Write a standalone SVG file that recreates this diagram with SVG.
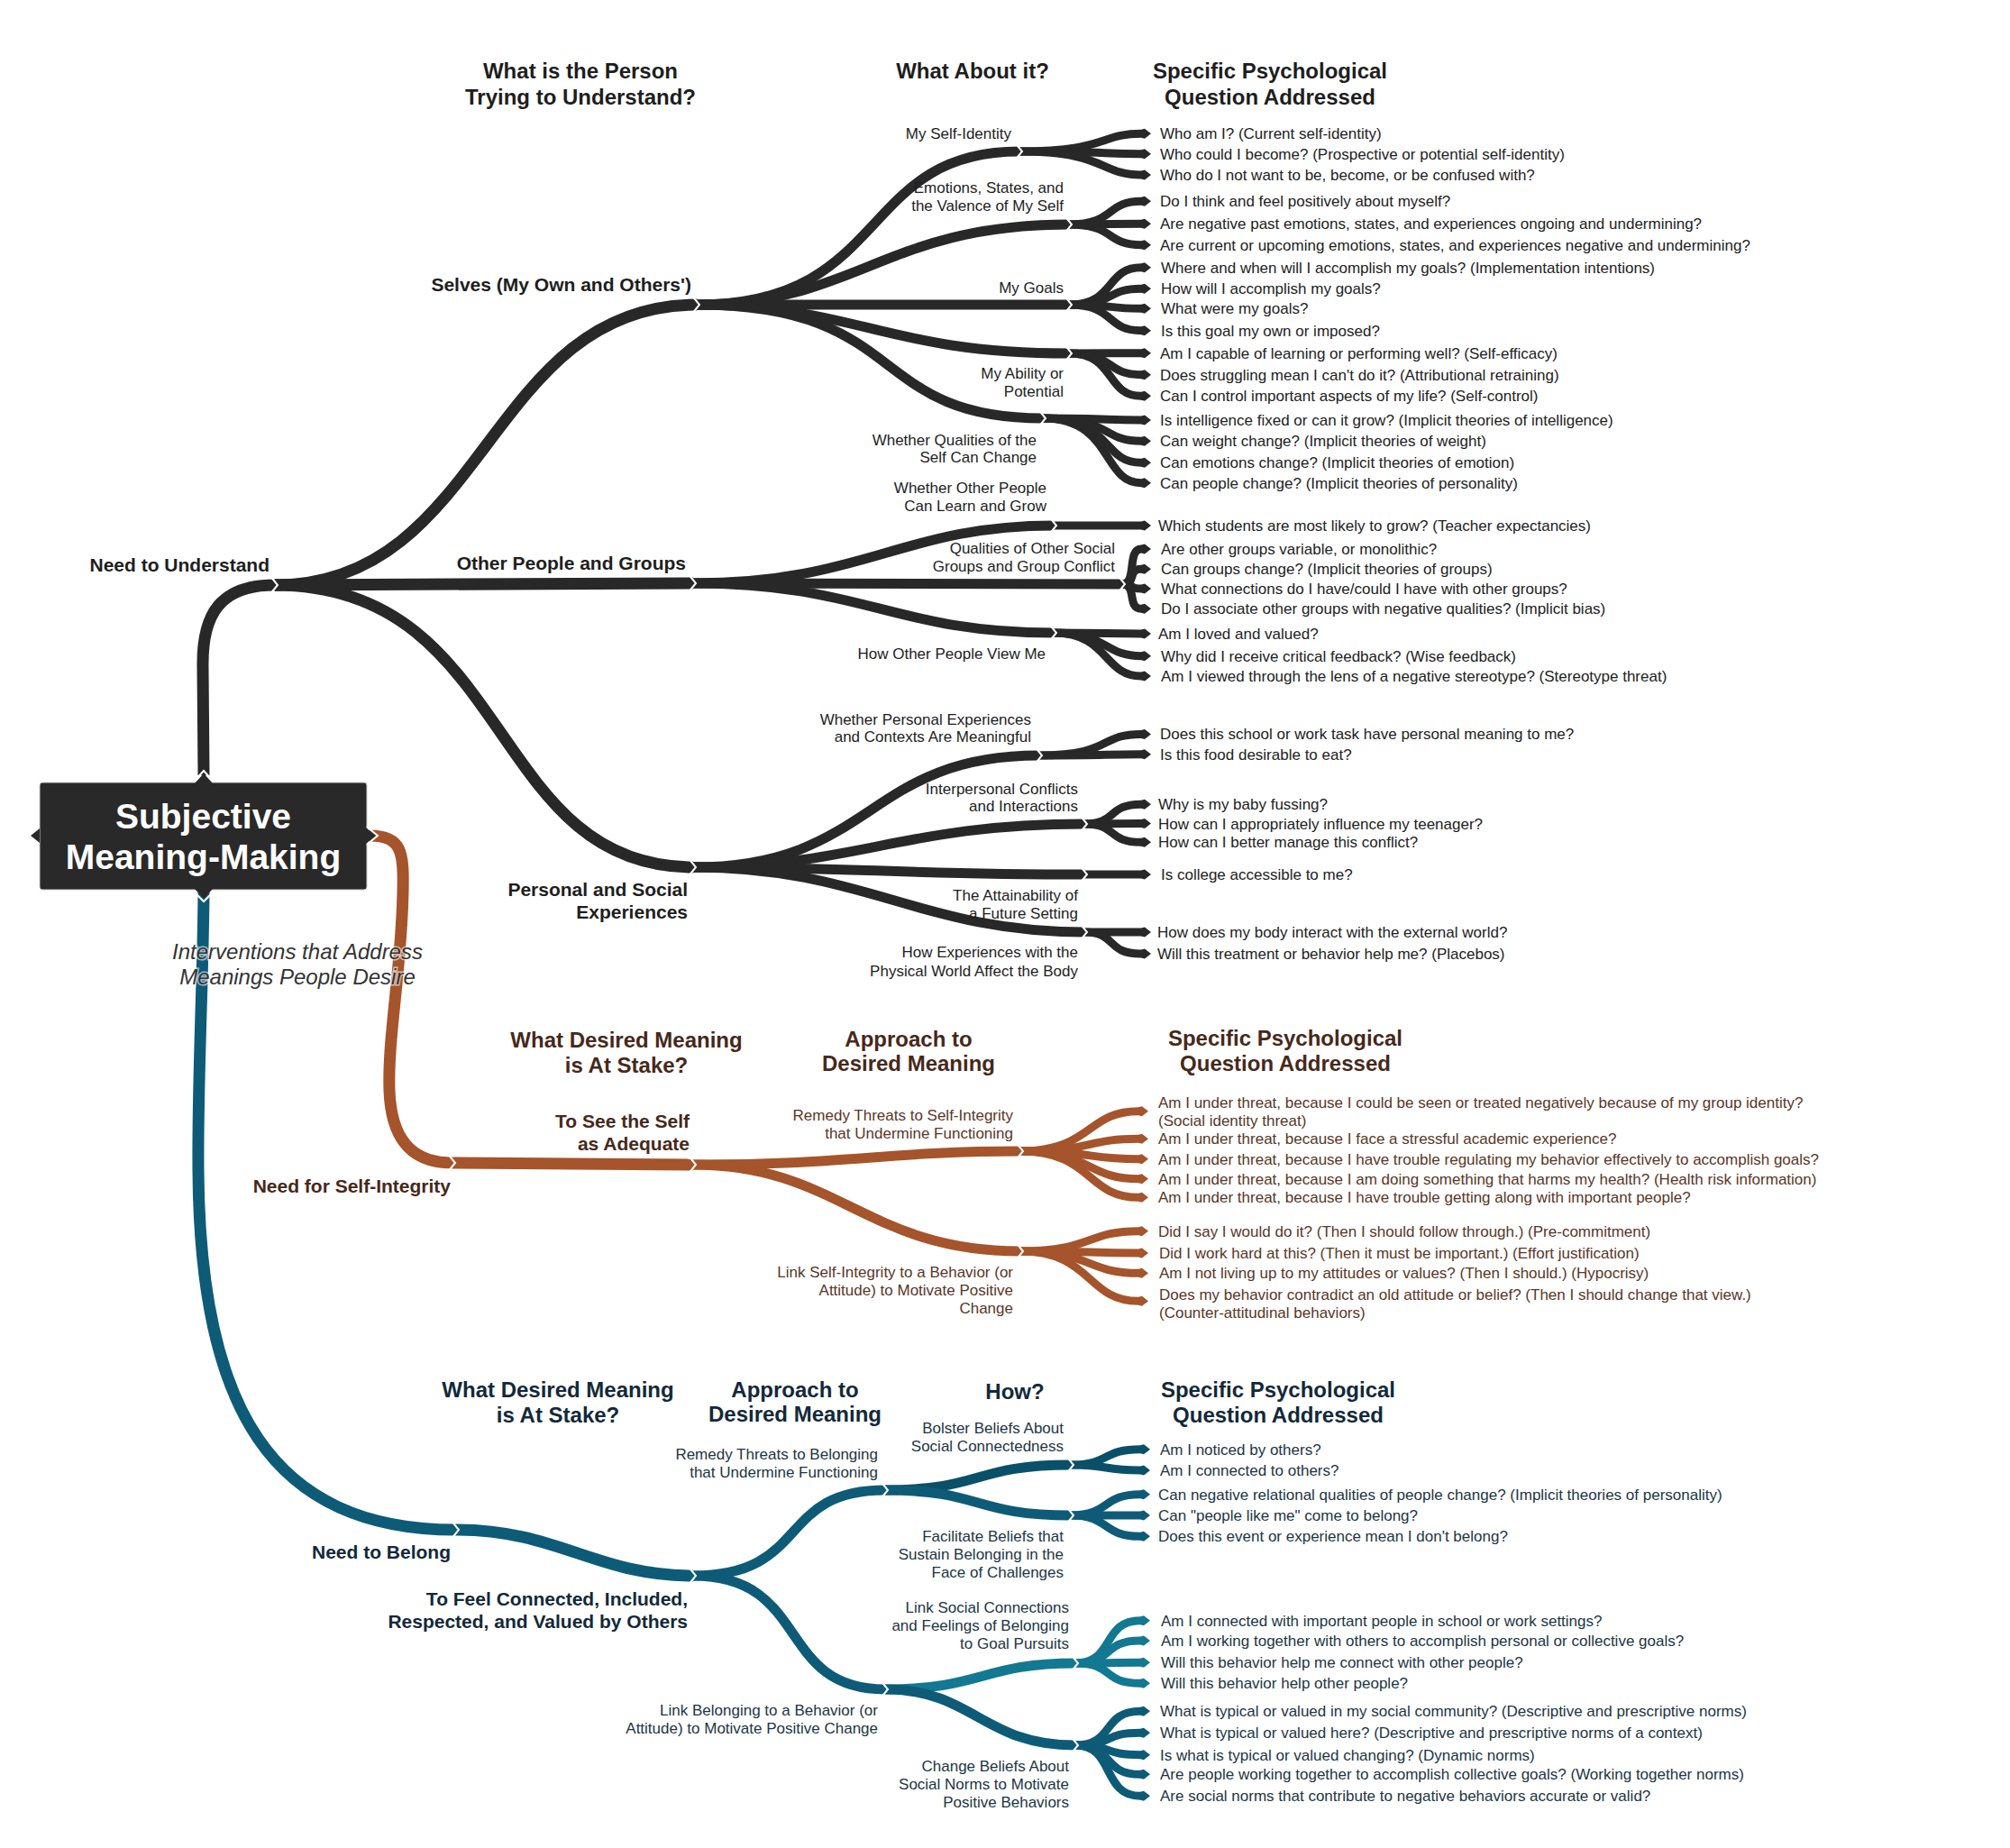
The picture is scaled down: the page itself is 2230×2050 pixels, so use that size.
<svg xmlns="http://www.w3.org/2000/svg" width="2230" height="2050" viewBox="0 0 2230 2050">
<style>
text{font-family:"Liberation Sans",Arial,sans-serif}
.q{font-size:17px}
.lb{font-size:17px;text-anchor:end}
.b1{font-size:21px;font-weight:bold;text-anchor:end}
.h{font-size:24px;font-weight:bold;text-anchor:middle}
.dk{fill:#1e1e1e}
.dq{fill:#222}
.brh{fill:#47281a}
.brq{fill:#5a3626}
.blh{fill:#12293a}
.blq{fill:#1c3644}
.c{fill:none;stroke-linecap:butt;stroke-linejoin:round}
.d{stroke:#282828}
.o{stroke:#A5542B}
.u{stroke:#0E5B78}
.u2{stroke:#0B5069}
.u3{stroke:#137891}
.w0{stroke-width:13}
.w1{stroke-width:11}
.w2{stroke-width:9}
.ld{marker-end:url(#ad)}
.lo{marker-end:url(#ao)}
.lu{marker-end:url(#au)}
.lu2{marker-end:url(#au2)}
.lu3{marker-end:url(#au3)}
</style>
<defs>
<marker id="ad" viewBox="0 -7 12 14" refX="0" refY="0" markerWidth="12" markerHeight="14" markerUnits="userSpaceOnUse" orient="auto"><path d="M0,-4.5 L4,-5.5 L11,0 L4,5.5 L0,4.5 Z" fill="#282828"/></marker>
<marker id="ao" viewBox="0 -7 12 14" refX="0" refY="0" markerWidth="12" markerHeight="14" markerUnits="userSpaceOnUse" orient="auto"><path d="M0,-4.5 L4,-5.5 L11,0 L4,5.5 L0,4.5 Z" fill="#A5542B"/></marker>
<marker id="au" viewBox="0 -7 12 14" refX="0" refY="0" markerWidth="12" markerHeight="14" markerUnits="userSpaceOnUse" orient="auto"><path d="M0,-4.5 L4,-5.5 L11,0 L4,5.5 L0,4.5 Z" fill="#0E5B78"/></marker>
<marker id="au2" viewBox="0 -7 12 14" refX="0" refY="0" markerWidth="12" markerHeight="14" markerUnits="userSpaceOnUse" orient="auto"><path d="M0,-4.5 L4,-5.5 L11,0 L4,5.5 L0,4.5 Z" fill="#0B5069"/></marker>
<marker id="au3" viewBox="0 -7 12 14" refX="0" refY="0" markerWidth="12" markerHeight="14" markerUnits="userSpaceOnUse" orient="auto"><path d="M0,-4.5 L4,-5.5 L11,0 L4,5.5 L0,4.5 Z" fill="#137891"/></marker>
<path id="cv" d="M-3.5,-8 L3,0 L-3.5,8" fill="none" stroke="#fff" stroke-width="2"/>
</defs>
<rect width="2230" height="2050" fill="#fff"/>

<g id="connectors">
<!-- dark tree -->
<path class="c d w0" d="M226,860 L225,740 C224,680 245,649 305,649"/>
<path class="c d w0" d="M305,649 C540,649 540,338 773,338"/>
<path class="c d w0" d="M305,649 L769,647"/>
<path class="c d w0" d="M305,649 C570,649 540,962 769,962"/>
<path class="c d w1" d="M773,338 C990,338 950,168 1131,168"/>
<path class="c d w1" d="M773,338 C950,338 980,249 1186,249"/>
<path class="c d w1" d="M773,338 L1186,338"/>
<path class="c d w1" d="M773,338 C950,338 980,392 1186,392"/>
<path class="c d w1" d="M773,338 C1010,338 960,464 1157,464"/>
<path class="c d w1" d="M769,647 C960,647 1000,583 1169,583"/>
<path class="c d w1" d="M769,647 L1245,648"/>
<path class="c d w1" d="M769,647 C960,647 990,702 1169,702"/>
<path class="c d w1" d="M769,962 C970,962 960,838 1153,838"/>
<path class="c d w1" d="M769,962 C950,962 1000,914 1203,914"/>
<path class="c d w1" d="M769,962 C950,962 1000,970 1203,970"/>
<path class="c d w1" d="M769,962 C960,962 1020,1034 1203,1034"/>
<path class="c d w2 ld" d="M1131,168 C1228,168 1220,148.3 1266,148.3"/>
<path class="c d w2 ld" d="M1131,168 C1228,168 1220,170.7 1266,170.7"/>
<path class="c d w2 ld" d="M1131,168 C1228,168 1220,194 1266,194"/>
<path class="c d w2 ld" d="M1186,249 C1238,249 1226,223.3 1266,223.3"/>
<path class="c d w2 ld" d="M1186,249 C1238,249 1226,248.3 1266,248.3"/>
<path class="c d w2 ld" d="M1186,249 C1238,249 1226,271.7 1266,271.7"/>
<path class="c d w2 ld" d="M1186,338 C1238,338 1226,296.7 1266,296.7"/>
<path class="c d w2 ld" d="M1186,338 C1238,338 1226,320.3 1266,320.3"/>
<path class="c d w2 ld" d="M1186,338 C1238,338 1226,342.3 1266,342.3"/>
<path class="c d w2 ld" d="M1186,338 C1238,338 1226,366.7 1266,366.7"/>
<path class="c d w2 ld" d="M1186,392 C1238,392 1226,391.7 1266,391.7"/>
<path class="c d w2 ld" d="M1186,392 C1238,392 1226,415.7 1266,415.7"/>
<path class="c d w2 ld" d="M1186,392 C1238,392 1226,439.3 1266,439.3"/>
<path class="c d w2 ld" d="M1157,464 C1235,464 1222,466 1266,466"/>
<path class="c d w2 ld" d="M1157,464 C1235,464 1222,489.3 1266,489.3"/>
<path class="c d w2 ld" d="M1157,464 C1235,464 1222,513.3 1266,513.3"/>
<path class="c d w2 ld" d="M1157,464 C1235,464 1222,535.7 1266,535.7"/>
<path class="c d w2 ld" d="M1169,583 L1266,583"/>
<path class="c d w2 ld" d="M1245,648 C1262,648 1250,609 1266,609"/>
<path class="c d w2 ld" d="M1245,648 C1262,648 1250,631.3 1266,631.3"/>
<path class="c d w2 ld" d="M1245,648 C1262,648 1250,653 1266,653"/>
<path class="c d w2 ld" d="M1245,648 C1262,648 1250,675.3 1266,675.3"/>
<path class="c d w2 ld" d="M1169,702 C1230,702 1224,702.9 1266,702.9"/>
<path class="c d w2 ld" d="M1169,702 C1230,702 1224,727.7 1266,727.7"/>
<path class="c d w2 ld" d="M1169,702 C1230,702 1224,750 1266,750"/>
<path class="c d w2 ld" d="M1153,838 C1235,838 1218,814.4 1266,814.4"/>
<path class="c d w2 ld" d="M1153,838 C1235,838 1218,836.8 1266,836.8"/>
<path class="c d w2 ld" d="M1203,914 C1240,914 1228,892.3 1266,892.3"/>
<path class="c d w2 ld" d="M1203,914 C1240,914 1228,913.6 1266,913.6"/>
<path class="c d w2 ld" d="M1203,914 C1240,914 1228,934.3 1266,934.3"/>
<path class="c d w2 ld" d="M1203,970 L1266,970"/>
<path class="c d w2 ld" d="M1203,1034 C1240,1034 1226,1034 1266,1034"/>
<path class="c d w2 ld" d="M1203,1034 C1240,1034 1226,1058 1266,1058"/>
<!-- brown tree -->
<path class="c o w0" d="M410,927 C446,927 448,945 447,990 C445,1080 430,1150 432,1210 C434,1262 455,1290 502,1290"/>
<path class="c o w0" d="M502,1290 L769,1292"/>
<path class="c o w1" d="M769,1292 C950,1292 980,1277 1132,1277"/>
<path class="c o w1" d="M769,1292 C930,1292 960,1388 1132,1388"/>
<path class="c o w2 lo" d="M1132,1277 C1212,1277 1205,1232.7 1263,1232.7"/>
<path class="c o w2 lo" d="M1132,1277 C1212,1277 1205,1263.3 1263,1263.3"/>
<path class="c o w2 lo" d="M1132,1277 C1212,1277 1205,1285.7 1263,1285.7"/>
<path class="c o w2 lo" d="M1132,1277 C1212,1277 1205,1307.7 1263,1307.7"/>
<path class="c o w2 lo" d="M1132,1277 C1212,1277 1205,1328.3 1263,1328.3"/>
<path class="c o w2 lo" d="M1132,1388 C1212,1388 1205,1365.7 1263,1365.7"/>
<path class="c o w2 lo" d="M1132,1388 C1212,1388 1205,1390 1263,1390"/>
<path class="c o w2 lo" d="M1132,1388 C1212,1388 1205,1412.3 1263,1412.3"/>
<path class="c o w2 lo" d="M1132,1388 C1212,1388 1205,1443.3 1263,1443.3"/>
<!-- blue tree -->
<path class="c u w0" d="M226,990 C225,1100 219,1200 220,1300 C222,1560 300,1697 506,1697"/>
<path class="c u w0" d="M506,1697 C620,1697 660,1748 769,1748"/>
<path class="c u w1" d="M769,1748 C900,1748 860,1653 982,1653"/>
<path class="c u w1" d="M769,1748 C900,1748 860,1874 982,1874"/>
<path class="c u2 w1" d="M982,1653 C1090,1653 1080,1625 1188,1625"/>
<path class="c u w1" d="M982,1653 C1090,1653 1080,1681 1188,1681"/>
<path class="c u3 w1" d="M982,1874 C1090,1874 1090,1845 1193,1845"/>
<path class="c u w1" d="M982,1874 C1080,1874 1090,1936 1193,1936"/>
<path class="c u2 w2 lu2" d="M1188,1625 C1232,1625 1222,1607.7 1265,1607.7"/>
<path class="c u2 w2 lu2" d="M1188,1625 C1232,1625 1222,1631 1265,1631"/>
<path class="c u w2 lu" d="M1188,1681 C1232,1681 1222,1657.7 1265,1657.7"/>
<path class="c u w2 lu" d="M1188,1681 C1232,1681 1222,1681 1265,1681"/>
<path class="c u w2 lu" d="M1188,1681 C1232,1681 1222,1704.3 1265,1704.3"/>
<path class="c u3 w2 lu3" d="M1193,1845 C1237,1845 1222,1797.7 1265,1797.7"/>
<path class="c u3 w2 lu3" d="M1193,1845 C1237,1845 1222,1820 1265,1820"/>
<path class="c u3 w2 lu3" d="M1193,1845 C1237,1845 1222,1844.3 1265,1844.3"/>
<path class="c u3 w2 lu3" d="M1193,1845 C1237,1845 1222,1867.3 1265,1867.3"/>
<path class="c u w2 lu" d="M1193,1936 C1237,1936 1222,1898.3 1265,1898.3"/>
<path class="c u w2 lu" d="M1193,1936 C1237,1936 1222,1922.3 1265,1922.3"/>
<path class="c u w2 lu" d="M1193,1936 C1237,1936 1222,1946.7 1265,1946.7"/>
<path class="c u w2 lu" d="M1193,1936 C1237,1936 1222,1968.3 1265,1968.3"/>
<path class="c u w2 lu" d="M1193,1936 C1237,1936 1222,1992.3 1265,1992.3"/>
<!-- junction chevrons -->
<use href="#cv" x="305" y="649"/><use href="#cv" x="773" y="338"/><use href="#cv" x="769" y="647"/><use href="#cv" x="769" y="962"/>
<use href="#cv" x="1131" y="168"/><use href="#cv" x="1186" y="249"/><use href="#cv" x="1186" y="338"/><use href="#cv" x="1186" y="392"/><use href="#cv" x="1157" y="464"/>
<use href="#cv" x="1169" y="583"/><use href="#cv" x="1245" y="648"/><use href="#cv" x="1169" y="702"/>
<use href="#cv" x="1153" y="838"/><use href="#cv" x="1203" y="914"/><use href="#cv" x="1203" y="970"/><use href="#cv" x="1203" y="1034"/>
<use href="#cv" x="502" y="1290"/><use href="#cv" x="769" y="1292"/><use href="#cv" x="1132" y="1277"/><use href="#cv" x="1132" y="1388"/>
<use href="#cv" x="506" y="1697"/><use href="#cv" x="769" y="1748"/><use href="#cv" x="982" y="1653"/><use href="#cv" x="982" y="1874"/>
<use href="#cv" x="1188" y="1625"/><use href="#cv" x="1188" y="1681"/><use href="#cv" x="1193" y="1845"/><use href="#cv" x="1193" y="1936"/>
</g>

<g id="root">
<rect x="44" y="868" width="363" height="119" rx="3" fill="#292929" stroke="#cfcfcf" stroke-width="1"/>
<polygon points="44,919 34,927 44,935" fill="#292929"/>
<polygon points="216,869 226,858 236,869" fill="#292929"/>
<polyline points="216,866 226,855 236,866" fill="none" stroke="#fff" stroke-width="2"/>
<polygon points="216,986 226,997 236,986" fill="#292929"/>
<polyline points="216,990 226,1000 236,990" fill="none" stroke="#fff" stroke-width="2"/>
<polygon points="406,918 417,927 406,936" fill="#292929"/>
<polyline points="407,917 419,927 407,937" fill="none" stroke="#fff" stroke-width="2"/>
<text x="225.5" y="919" text-anchor="middle" font-size="39" font-weight="bold" fill="#fff">Subjective</text>
<text x="225.5" y="964" text-anchor="middle" font-size="39" font-weight="bold" fill="#fff">Meaning-Making</text>
</g>

<g id="note"><text text-anchor="middle" font-size="24" font-style="italic" fill="#333" stroke="#fff" stroke-width="3" stroke-opacity="0.6" paint-order="stroke"><tspan x="330" y="1064">Interventions that Address</tspan><tspan x="330" y="1092">Meanings People Desire</tspan></text></g>

<!-- headers -->
<g id="hdr-understand-1"><text class="h dk" x="644" y="87">What is the Person</text><text class="h dk" x="644" y="116">Trying to Understand?</text></g>
<g id="hdr-understand-2"><text class="h dk" x="1079" y="87">What About it?</text></g>
<g id="hdr-understand-3"><text class="h dk" x="1409" y="87">Specific Psychological</text><text class="h dk" x="1409" y="116">Question Addressed</text></g>
<g id="hdr-integrity-1"><text class="h brh" x="695" y="1162">What Desired Meaning</text><text class="h brh" x="695" y="1190">is At Stake?</text></g>
<g id="hdr-integrity-2"><text class="h brh" x="1008" y="1161">Approach to</text><text class="h brh" x="1008" y="1188">Desired Meaning</text></g>
<g id="hdr-integrity-3"><text class="h brh" x="1426" y="1160">Specific Psychological</text><text class="h brh" x="1426" y="1188">Question Addressed</text></g>
<g id="hdr-belong-1"><text class="h blh" x="619" y="1550">What Desired Meaning</text><text class="h blh" x="619" y="1578">is At Stake?</text></g>
<g id="hdr-belong-2"><text class="h blh" x="882" y="1550">Approach to</text><text class="h blh" x="882" y="1577">Desired Meaning</text></g>
<g id="hdr-belong-3"><text class="h blh" x="1126" y="1552">How?</text></g>
<g id="hdr-belong-4"><text class="h blh" x="1418" y="1550">Specific Psychological</text><text class="h blh" x="1418" y="1578">Question Addressed</text></g>

<!-- dark nodes -->
<g id="n-understand"><text class="b1 dk" x="299" y="633.5">Need to Understand</text></g>
<g id="n-selves"><text class="b1 dk" x="767" y="322.5">Selves (My Own and Others')</text></g>
<g id="n-others"><text class="b1 dk" x="761" y="632">Other People and Groups</text></g>
<g id="n-personal"><text class="b1 dk" x="763" y="993.5">Personal and Social</text><text class="b1 dk" x="763" y="1019">Experiences</text></g>
<g id="n-selfid"><text class="lb dk" x="1122" y="154">My Self-Identity</text></g>
<g id="n-emotions"><text class="lb dk" x="1180" y="214">Emotions, States, and</text><text class="lb dk" x="1180" y="233.5">the Valence of My Self</text></g>
<g id="n-goals"><text class="lb dk" x="1180" y="324.6">My Goals</text></g>
<g id="n-ability"><text class="lb dk" x="1180" y="420">My Ability or</text><text class="lb dk" x="1180" y="440">Potential</text></g>
<g id="n-qualself"><text class="lb dk" x="1150" y="493.5">Whether Qualities of the</text><text class="lb dk" x="1150" y="513">Self Can Change</text></g>
<g id="n-othergrow"><text class="lb dk" x="1161" y="547.4">Whether Other People</text><text class="lb dk" x="1161" y="567">Can Learn and Grow</text></g>
<g id="n-groups"><text class="lb dk" x="1237" y="614">Qualities of Other Social</text><text class="lb dk" x="1237" y="634">Groups and Group Conflict</text></g>
<g id="n-viewme"><text class="lb dk" x="1160" y="731">How Other People View Me</text></g>
<g id="n-meaningful"><text class="lb dk" x="1144" y="803.5">Whether Personal Experiences</text><text class="lb dk" x="1144" y="823">and Contexts Are Meaningful</text></g>
<g id="n-interpersonal"><text class="lb dk" x="1196" y="880.6">Interpersonal Conflicts</text><text class="lb dk" x="1196" y="900">and Interactions</text></g>
<g id="n-attain"><text class="lb dk" x="1196" y="998.5">The Attainability of</text><text class="lb dk" x="1196" y="1019">a Future Setting</text></g>
<g id="n-body"><text class="lb dk" x="1196" y="1062">How Experiences with the</text><text class="lb dk" x="1196" y="1082.7">Physical World Affect the Body</text></g>

<!-- dark leaves -->
<g id="q1"><text class="q dq" x="1287" y="154.3">Who am I? (Current self-identity)</text></g>
<g id="q2"><text class="q dq" x="1287" y="176.7">Who could I become? (Prospective or potential self-identity)</text></g>
<g id="q3"><text class="q dq" x="1287" y="200">Who do I not want to be, become, or be confused with?</text></g>
<g id="q4"><text class="q dq" x="1287" y="229.3">Do I think and feel positively about myself?</text></g>
<g id="q5"><text class="q dq" x="1287" y="254.3">Are negative past emotions, states, and experiences ongoing and undermining?</text></g>
<g id="q6"><text class="q dq" x="1287" y="277.7">Are current or upcoming emotions, states, and experiences negative and undermining?</text></g>
<g id="q7"><text class="q dq" x="1288" y="302.7">Where and when will I accomplish my goals? (Implementation intentions)</text></g>
<g id="q8"><text class="q dq" x="1288" y="326.3">How will I accomplish my goals?</text></g>
<g id="q9"><text class="q dq" x="1288" y="348.3">What were my goals?</text></g>
<g id="q10"><text class="q dq" x="1288" y="372.7">Is this goal my own or imposed?</text></g>
<g id="q11"><text class="q dq" x="1287" y="397.7">Am I capable of learning or performing well? (Self-efficacy)</text></g>
<g id="q12"><text class="q dq" x="1287" y="421.7">Does struggling mean I can't do it? (Attributional retraining)</text></g>
<g id="q13"><text class="q dq" x="1287" y="445.3">Can I control important aspects of my life? (Self-control)</text></g>
<g id="q14"><text class="q dq" x="1287" y="472">Is intelligence fixed or can it grow? (Implicit theories of intelligence)</text></g>
<g id="q15"><text class="q dq" x="1287" y="495.3">Can weight change? (Implicit theories of weight)</text></g>
<g id="q16"><text class="q dq" x="1287" y="519.3">Can emotions change? (Implicit theories of emotion)</text></g>
<g id="q17"><text class="q dq" x="1287" y="541.7">Can people change? (Implicit theories of personality)</text></g>
<g id="q18"><text class="q dq" x="1285" y="589">Which students are most likely to grow? (Teacher expectancies)</text></g>
<g id="q19"><text class="q dq" x="1288" y="615">Are other groups variable, or monolithic?</text></g>
<g id="q20"><text class="q dq" x="1288" y="637.3">Can groups change? (Implicit theories of groups)</text></g>
<g id="q21"><text class="q dq" x="1288" y="659">What connections do I have/could I have with other groups?</text></g>
<g id="q22"><text class="q dq" x="1288" y="681.3">Do I associate other groups with negative qualities? (Implicit bias)</text></g>
<g id="q23"><text class="q dq" x="1285" y="709">Am I loved and valued?</text></g>
<g id="q24"><text class="q dq" x="1288" y="733.7">Why did I receive critical feedback? (Wise feedback)</text></g>
<g id="q25"><text class="q dq" x="1288" y="756">Am I viewed through the lens of a negative stereotype? (Stereotype threat)</text></g>
<g id="q26"><text class="q dq" x="1287" y="820.4">Does this school or work task have personal meaning to me?</text></g>
<g id="q27"><text class="q dq" x="1287" y="842.8">Is this food desirable to eat?</text></g>
<g id="q28"><text class="q dq" x="1285" y="898.3">Why is my baby fussing?</text></g>
<g id="q29"><text class="q dq" x="1285" y="919.6">How can I appropriately influence my teenager?</text></g>
<g id="q30"><text class="q dq" x="1285" y="940.3">How can I better manage this conflict?</text></g>
<g id="q31"><text class="q dq" x="1288" y="976">Is college accessible to me?</text></g>
<g id="q32"><text class="q dq" x="1284" y="1040">How does my body interact with the external world?</text></g>
<g id="q33"><text class="q dq" x="1284" y="1064">Will this treatment or behavior help me? (Placebos)</text></g>

<!-- brown nodes -->
<g id="n-integrity"><text class="b1 brh" x="500" y="1323">Need for Self-Integrity</text></g>
<g id="n-adequate"><text class="b1 brh" x="765" y="1250.5">To See the Self</text><text class="b1 brh" x="765" y="1275.5">as Adequate</text></g>
<g id="n-remedy-int"><text class="lb brq" x="1124" y="1242.7">Remedy Threats to Self-Integrity</text><text class="lb brq" x="1124" y="1262.7">that Undermine Functioning</text></g>
<g id="n-link-int"><text class="lb brq" x="1124" y="1416.7">Link Self-Integrity to a Behavior (or</text><text class="lb brq" x="1124" y="1436.7">Attitude) to Motivate Positive</text><text class="lb brq" x="1124" y="1456.7">Change</text></g>
<g id="q34"><text class="q brq" x="1285" y="1228.7">Am I under threat, because I could be seen or treated negatively because of my group identity?</text><text class="q brq" x="1285" y="1248.7">(Social identity threat)</text></g>
<g id="q35"><text class="q brq" x="1285" y="1269.3">Am I under threat, because I face a stressful academic experience?</text></g>
<g id="q36"><text class="q brq" x="1285" y="1291.7">Am I under threat, because I have trouble regulating my behavior effectively to accomplish goals?</text></g>
<g id="q37"><text class="q brq" x="1285" y="1313.7">Am I under threat, because I am doing something that harms my health? (Health risk information)</text></g>
<g id="q38"><text class="q brq" x="1285" y="1334.3">Am I under threat, because I have trouble getting along with important people?</text></g>
<g id="q39"><text class="q brq" x="1285" y="1371.7">Did I say I would do it? (Then I should follow through.) (Pre-commitment)</text></g>
<g id="q40"><text class="q brq" x="1286" y="1396">Did I work hard at this? (Then it must be important.) (Effort justification)</text></g>
<g id="q41"><text class="q brq" x="1286" y="1418.3">Am I not living up to my attitudes or values? (Then I should.) (Hypocrisy)</text></g>
<g id="q42"><text class="q brq" x="1286" y="1441.7">Does my behavior contradict an old attitude or belief? (Then I should change that view.)</text><text class="q brq" x="1286" y="1461.7">(Counter-attitudinal behaviors)</text></g>

<!-- blue nodes -->
<g id="n-belong"><text class="b1 blh" x="500" y="1728.5">Need to Belong</text></g>
<g id="n-connected"><text class="b1 blh" x="763" y="1780.5">To Feel Connected, Included,</text><text class="b1 blh" x="763" y="1805.5">Respected, and Valued by Others</text></g>
<g id="n-remedy-bel"><text class="lb blq" x="974" y="1618.7">Remedy Threats to Belonging</text><text class="lb blq" x="974" y="1638.7">that Undermine Functioning</text></g>
<g id="n-link-bel"><text class="lb blq" x="974" y="1903">Link Belonging to a Behavior (or</text><text class="lb blq" x="974" y="1923">Attitude) to Motivate Positive Change</text></g>
<g id="n-bolster"><text class="lb blq" x="1180" y="1590">Bolster Beliefs About</text><text class="lb blq" x="1180" y="1610">Social Connectedness</text></g>
<g id="n-facilitate"><text class="lb blq" x="1180" y="1710">Facilitate Beliefs that</text><text class="lb blq" x="1180" y="1730.3">Sustain Belonging in the</text><text class="lb blq" x="1180" y="1750.3">Face of Challenges</text></g>
<g id="n-linksocial"><text class="lb blq" x="1186" y="1789">Link Social Connections</text><text class="lb blq" x="1186" y="1809">and Feelings of Belonging</text><text class="lb blq" x="1186" y="1829">to Goal Pursuits</text></g>
<g id="n-norms"><text class="lb blq" x="1186" y="1965">Change Beliefs About</text><text class="lb blq" x="1186" y="1985">Social Norms to Motivate</text><text class="lb blq" x="1186" y="2005">Positive Behaviors</text></g>
<g id="q43"><text class="q blq" x="1287" y="1613.7">Am I noticed by others?</text></g>
<g id="q44"><text class="q blq" x="1287" y="1637">Am I connected to others?</text></g>
<g id="q45"><text class="q blq" x="1285" y="1663.7">Can negative relational qualities of people change? (Implicit theories of personality)</text></g>
<g id="q46"><text class="q blq" x="1285" y="1687">Can "people like me" come to belong?</text></g>
<g id="q47"><text class="q blq" x="1285" y="1710.3">Does this event or experience mean I don't belong?</text></g>
<g id="q48"><text class="q blq" x="1288" y="1803.7">Am I connected with important people in school or work settings?</text></g>
<g id="q49"><text class="q blq" x="1288" y="1826">Am I working together with others to accomplish personal or collective goals?</text></g>
<g id="q50"><text class="q blq" x="1288" y="1850.3">Will this behavior help me connect with other people?</text></g>
<g id="q51"><text class="q blq" x="1288" y="1873.3">Will this behavior help other people?</text></g>
<g id="q52"><text class="q blq" x="1287" y="1904.3">What is typical or valued in my social community? (Descriptive and prescriptive norms)</text></g>
<g id="q53"><text class="q blq" x="1287" y="1928.3">What is typical or valued here? (Descriptive and prescriptive norms of a context)</text></g>
<g id="q54"><text class="q blq" x="1287" y="1952.7">Is what is typical or valued changing? (Dynamic norms)</text></g>
<g id="q55"><text class="q blq" x="1287" y="1974.3">Are people working together to accomplish collective goals? (Working together norms)</text></g>
<g id="q56"><text class="q blq" x="1287" y="1998.3">Are social norms that contribute to negative behaviors accurate or valid?</text></g>
</svg>
